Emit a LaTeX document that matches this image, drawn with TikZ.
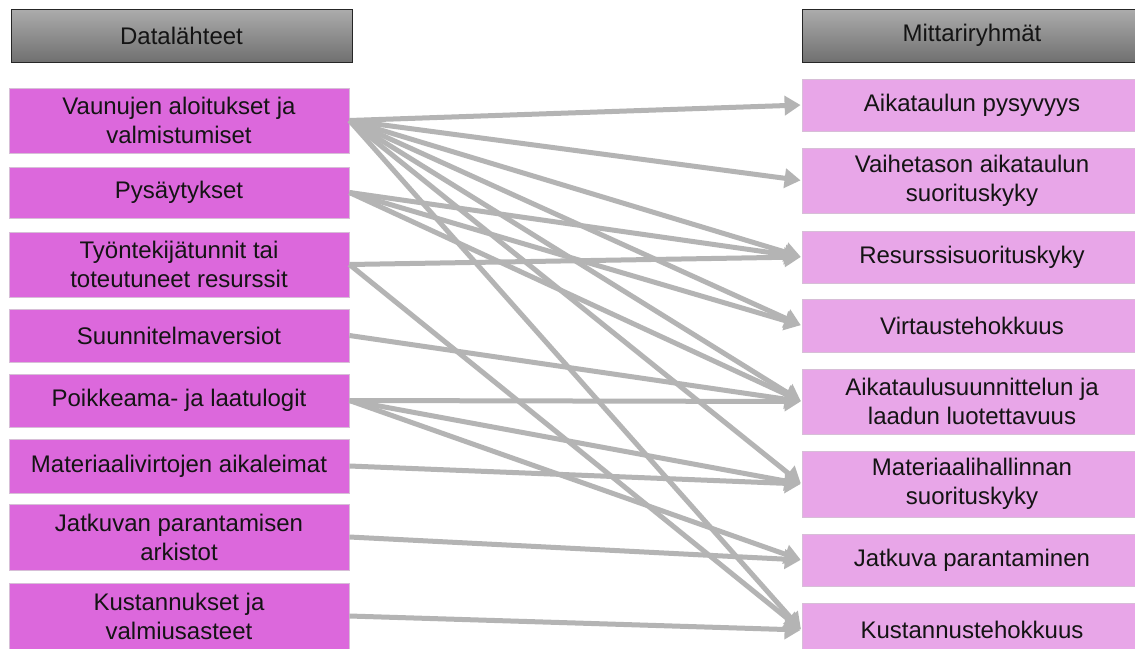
\documentclass[tikz,border=0pt]{standalone}
\usepackage{fontspec}
\setmainfont{Liberation Sans}
\usetikzlibrary{arrows.meta}
\definecolor{srcfill}{RGB}{220,104,220}
\definecolor{dstfill}{RGB}{232,166,232}
\definecolor{boxline}{RGB}{215,190,215}
\definecolor{hdtop}{RGB}{172,172,172}
\definecolor{hdbot}{RGB}{112,112,112}
\definecolor{arrowgray}{RGB}{180,180,180}
\tikzset{
  txt/.style={font=\fontsize{24}{29}\selectfont, align=center, text=black!92, inner sep=0pt},
  hdbox/.style={txt, minimum width=341pt, minimum height=53pt, top color=hdtop, bottom color=hdbot, draw=black!85, line width=1pt},
  srcbox/.style={txt, minimum width=340pt, fill=srcfill, draw=boxline, line width=0.8pt},
  dstbox/.style={txt, minimum width=340pt, fill=dstfill, draw=boxline, line width=0.8pt},
  link/.style={draw=arrowgray, line width=5pt, -{Triangle[length=16pt,width=19pt]}, shorten >=1pt}
}
\begin{document}
\begin{tikzpicture}[x=1pt,y=-1pt]
\useasboundingbox (0,0) rectangle (1135,648);
\fill[white] (0,0) rectangle (1135,648);
\begin{scope}
\clip (0,0) rectangle (1135,648);
% headers
\node[hdbox] (hL) at (181.5,35.5) {Datalähteet};
\node[hdbox, minimum width=340pt] (hR) at (972,35.5) {Mittariryhmät};
% sources
\node[srcbox, minimum height=65pt] (L1) at (179,120.5) {Vaunujen aloitukset ja\\valmistumiset};
\node[srcbox, minimum height=51pt] (L2) at (179,192.5) {Pysäytykset};
\node[srcbox, minimum height=65pt] (L3) at (179,264.5) {Työntekijätunnit tai\\toteutuneet resurssit};
\node[srcbox, minimum height=53pt] (L4) at (179,335.5) {Suunnitelmaversiot};
\node[srcbox, minimum height=53pt] (L5) at (179,400.5) {Poikkeama- ja laatulogit};
\node[srcbox, minimum height=54pt] (L6) at (179,466) {Materiaalivirtojen aikaleimat};
\node[srcbox, minimum height=66pt] (L7) at (179,537) {Jatkuvan parantamisen\\arkistot};
\node[srcbox, minimum height=66pt] (L8) at (179,616) {Kustannukset ja\\valmiusasteet};
% metric groups
\node[dstbox, minimum height=52pt] (R1) at (972,105) {Aikataulun pysyvyys};
\node[dstbox, minimum height=65pt] (R2) at (972,180.5) {Vaihetason aikataulun\\suorituskyky};
\node[dstbox, minimum height=52pt] (R3) at (972,257) {Resurssisuorituskyky};
\node[dstbox, minimum height=53pt] (R4) at (972,325.5) {Virtaustehokkuus};
\node[dstbox, minimum height=65pt] (R5) at (972,401.5) {Aikataulusuunnittelun ja\\laadun luotettavuus};
\node[dstbox, minimum height=66pt] (R6) at (972,484) {Materiaalihallinnan\\suorituskyky};
\node[dstbox, minimum height=52pt] (R7) at (972,560) {Jatkuva parantaminen};
\node[dstbox, minimum height=54pt] (R8) at (972,630) {Kustannustehokkuus};
\end{scope}
% connectors
\foreach \s/\t in {L1/R1,L1/R2,L1/R3,L1/R4,L1/R5,L1/R6,L1/R8,
                   L2/R3,L2/R4,L2/R5,
                   L3/R3,L3/R8,
                   L4/R5,
                   L5/R5,L5/R6,L5/R7,
                   L6/R6,
                   L7/R7,
                   L8/R8}
  \draw[link] (\s.east) -- (\t.west);
\end{tikzpicture}
\end{document}
